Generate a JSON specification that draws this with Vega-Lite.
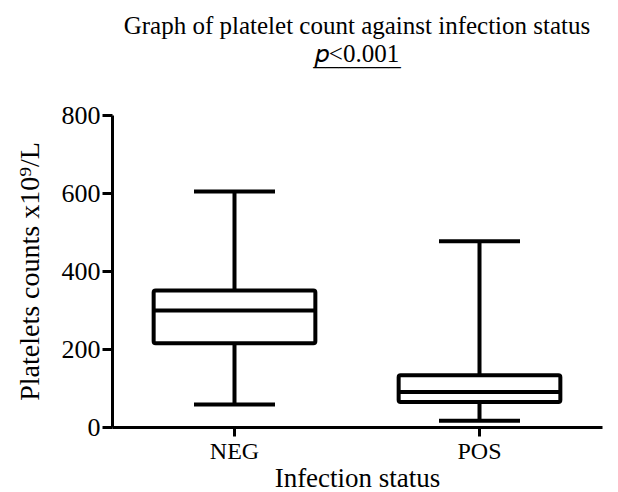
{
  "$schema": "https://vega.github.io/schema/vega-lite/v6.json",
  "autosize": "none",
  "width": 490,
  "height": 312,
  "padding": {"left": 112, "top": 115, "right": 16, "bottom": 65},
  "background": "white",
  "config": {
    "view": {"stroke": null},
    "font": "Liberation Serif",
    "axis": {
      "labelFont": "Liberation Serif",
      "titleFont": "Liberation Serif",
      "labelColor": "black",
      "titleColor": "black",
      "titleFontWeight": "normal",
      "domainColor": "black",
      "domainWidth": 3,
      "tickColor": "black",
      "tickWidth": 3,
      "grid": false
    }
  },
  "title": {
    "text": "Graph of platelet count against infection status",
    "subtitle": ["𝑝<0.001", "_______"],
    "anchor": "middle",
    "font": "Liberation Serif",
    "fontSize": 25,
    "fontWeight": "normal",
    "color": "black",
    "subtitleFont": "Liberation Serif",
    "subtitleFontSize": 25,
    "subtitleColor": "black",
    "subtitlePadding": 3,
    "subtitleLineHeight": 3,
    "offset": 32
  },
  "data": {
    "values": [
      {"status": "NEG", "lower": 58, "q1": 215, "median": 299, "q3": 350, "upper": 604},
      {"status": "POS", "lower": 16, "q1": 64, "median": 90, "q3": 133, "upper": 476}
    ]
  },
  "encoding": {
    "x": {
      "field": "status",
      "type": "nominal",
      "sort": ["NEG", "POS"],
      "scale": {"paddingInner": 0, "paddingOuter": 0},
      "axis": {
        "title": "Infection status",
        "titleFontSize": 27,
        "titlePadding": 2,
        "labelFontSize": 24,
        "labelAngle": 0,
        "labelPadding": 3,
        "tickSize": 9
      }
    }
  },
  "layer": [
    {
      "mark": {"type": "rule", "color": "black", "strokeWidth": 4},
      "encoding": {
        "y": {
          "field": "lower",
          "type": "quantitative",
          "scale": {"domain": [0, 800], "nice": false},
          "axis": {
            "title": "Platelets counts x10⁹/L",
            "titleFontSize": 28,
            "titlePadding": 17,
            "values": [0, 200, 400, 600, 800],
            "labelFontSize": 26,
            "labelPadding": 2,
            "tickSize": 10
          }
        },
        "y2": {"field": "upper"}
      }
    },
    {
      "mark": {"type": "bar", "fill": "white", "stroke": "black", "strokeWidth": 4, "cornerRadius": 2, "width": {"band": 0.66}},
      "encoding": {
        "y": {"field": "q1", "type": "quantitative"},
        "y2": {"field": "q3"}
      }
    },
    {
      "mark": {"type": "tick", "color": "black", "opacity": 1, "thickness": 4, "size": 160},
      "encoding": {"y": {"field": "median", "type": "quantitative"}}
    },
    {
      "mark": {"type": "tick", "color": "black", "opacity": 1, "thickness": 4, "size": 81},
      "encoding": {"y": {"field": "upper", "type": "quantitative"}}
    },
    {
      "mark": {"type": "tick", "color": "black", "opacity": 1, "thickness": 4, "size": 81},
      "encoding": {"y": {"field": "lower", "type": "quantitative"}}
    }
  ]
}
